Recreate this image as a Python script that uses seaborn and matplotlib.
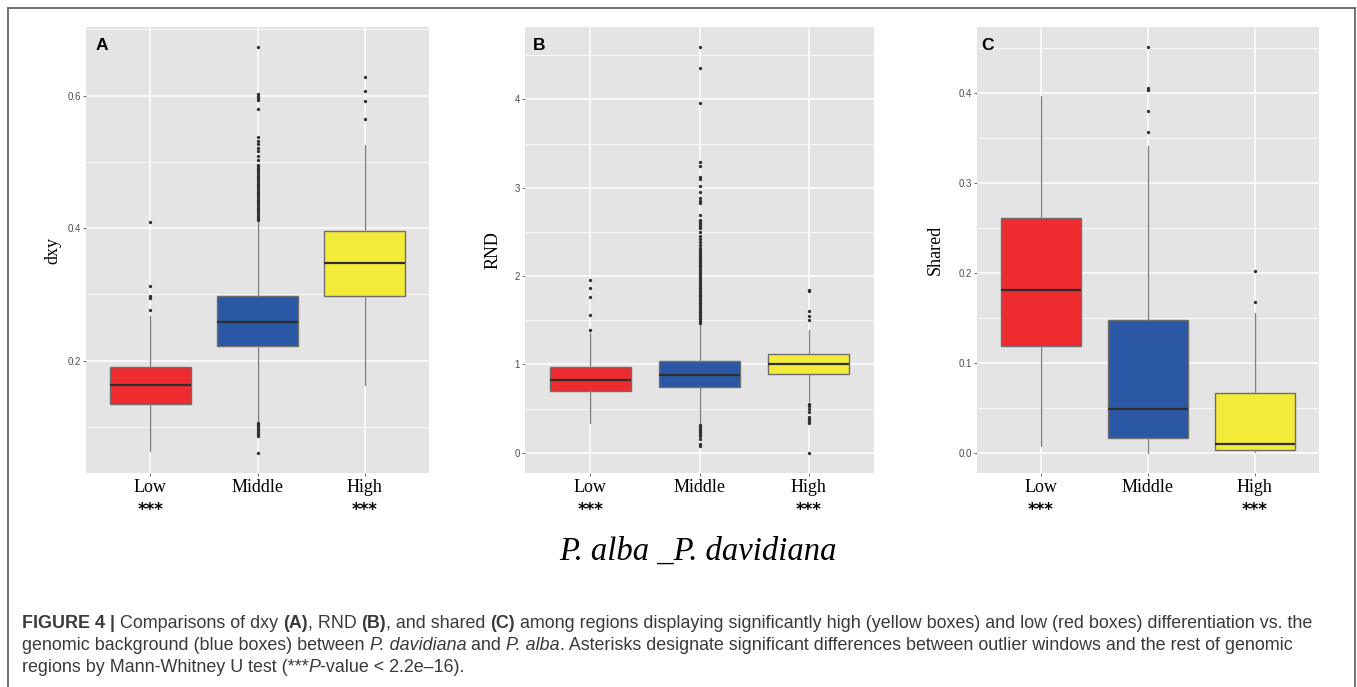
import matplotlib
matplotlib.use("Agg")
import matplotlib.pyplot as plt
import seaborn as sns
from matplotlib import font_manager
from matplotlib.lines import Line2D
from matplotlib.ticker import FixedLocator

# ---- data ----
groups = ['Low', 'Middle', 'High']
box_colors = ['#EE2B2E', '#2B58A5', '#F3EB3A']

# per group: whislo, q1, median, q3, whishi
dxy_stats = [
    [0.063, 0.135, 0.163, 0.190, 0.268],
    [0.109, 0.222, 0.258, 0.298, 0.411],
    [0.163, 0.297, 0.348, 0.395, 0.526],
]
dxy_fliers = [
    [0.276, 0.295, 0.298, 0.313, 0.409],
    [0.061, 0.086, 0.089, 0.092, 0.095, 0.098, 0.101, 0.104, 0.106,
     0.413, 0.416, 0.419, 0.422, 0.425, 0.428, 0.431, 0.434, 0.437, 0.440,
     0.443, 0.446, 0.449, 0.452, 0.455, 0.458, 0.461, 0.464, 0.467, 0.470,
     0.473, 0.476, 0.479, 0.482, 0.485, 0.488, 0.491, 0.494, 0.496,
     0.503, 0.509, 0.517, 0.521, 0.527, 0.532, 0.538,
     0.580, 0.594, 0.597, 0.600, 0.602, 0.673],
    [0.565, 0.592, 0.607, 0.628],
]

rnd_stats = [
    [0.34, 0.704, 0.828, 0.972, 1.36],
    [0.34, 0.746, 0.885, 1.035, 1.465],
    [0.58, 0.896, 1.006, 1.122, 1.393],
]
rnd_fliers = [
    [1.393, 1.563, 1.758, 1.86, 1.958],
    [0.075, 0.094, 0.15, 0.19, 0.21, 0.23, 0.25, 0.27, 0.29, 0.31,
     1.47, 1.49, 1.51, 1.53, 1.55, 1.57, 1.59, 1.61, 1.63, 1.65, 1.67,
     1.69, 1.71, 1.73, 1.75, 1.77, 1.79, 1.81, 1.83, 1.85, 1.87, 1.89,
     1.91, 1.93, 1.95, 1.97, 1.99, 2.01, 2.03, 2.05, 2.07, 2.09, 2.11,
     2.13, 2.15, 2.17, 2.19, 2.21, 2.23, 2.25, 2.27, 2.29,
     2.32, 2.35, 2.385, 2.42, 2.455, 2.50, 2.54, 2.56, 2.58, 2.60, 2.62,
     2.64, 2.69, 2.825, 2.854, 2.888, 2.956, 3.024, 3.10, 3.125, 3.25,
     3.295, 3.955, 4.36, 4.59],
    [0.0, 0.331, 0.36, 0.385, 0.407, 0.463, 0.49, 0.53, 0.557,
     1.499, 1.544, 1.608, 1.83, 1.84],
]

shared_stats = [
    [0.007, 0.1185, 0.181, 0.261, 0.397],
    [0.0, 0.0166, 0.049, 0.148, 0.341],
    [0.001, 0.003, 0.010, 0.066, 0.1556],
]
shared_fliers = [
    [],
    [0.357, 0.380, 0.404, 0.406, 0.451],
    [0.1674, 0.2018],
]

dxy_ticks = [0.2, 0.4, 0.6]
dxy_ticklabels = ['0.2', '0.4', '0.6']
dxy_minor = [0.1, 0.3, 0.5, 0.7]
rnd_ticks = [0, 1, 2, 3, 4]
rnd_ticklabels = ['0', '1', '2', '3', '4']
rnd_minor = [0.5, 1.5, 2.5, 3.5, 4.5]
shared_ticks = [0.0, 0.1, 0.2, 0.3, 0.4]
shared_ticklabels = ['0.0', '0.1', '0.2', '0.3', '0.4']
shared_minor = [0.05, 0.15, 0.25, 0.35, 0.45]

signif = ['***', '', '***']

# ---- style ----
W, H = 1357, 687
sns.set_theme(style='darkgrid', rc={
    'axes.facecolor': '#E4E4E4',
    'figure.facecolor': 'white',
    'grid.color': 'white',
})
installed = {f.name for f in font_manager.fontManager.ttflist}
tick_font = 'Liberation Sans Narrow' if 'Liberation Sans Narrow' in installed else 'Liberation Sans'
plt.rcParams['font.family'] = ['Liberation Sans', 'DejaVu Sans']

fig = plt.figure(figsize=(W / 100, H / 100), dpi=100)


def rect(left, top, width, height):
    return [left / W, 1 - (top + height) / H, width / W, height / H]


panels = [
    dict(letter='A', ylabel='dxy', stats=dxy_stats, fliers=dxy_fliers,
         ticks=dxy_ticks, labels=dxy_ticklabels, minor=dxy_minor,
         box=rect(86, 27, 343, 446), lab_x=-0.072, let_x=0.028),
    dict(letter='B', ylabel='RND', stats=rnd_stats, fliers=rnd_fliers,
         ticks=rnd_ticks, labels=rnd_ticklabels, minor=rnd_minor,
         box=rect(525, 27, 349, 446), lab_x=-0.066, let_x=0.022),
    dict(letter='C', ylabel='Shared', stats=shared_stats, fliers=shared_fliers,
         ticks=shared_ticks, labels=shared_ticklabels, minor=shared_minor,
         box=rect(977, 27, 342, 446), lab_x=-0.097, let_x=0.012),
]

for p in panels:
    ax = fig.add_axes(p['box'])
    bstats = [dict(whislo=s[0], q1=s[1], med=s[2], q3=s[3], whishi=s[4], fliers=f)
              for s, f in zip(p['stats'], p['fliers'])]
    bp = ax.bxp(bstats, positions=range(len(groups)), widths=0.75,
                patch_artist=True, showcaps=False,
                boxprops=dict(edgecolor='#6E6E6E', linewidth=1.0),
                medianprops=dict(color='#2E2E2E', linewidth=1.6),
                whiskerprops=dict(color='#808080', linewidth=1.0),
                flierprops=dict(marker='o', markersize=2.4, markerfacecolor='#303030',
                                markeredgecolor='none'))
    for patch, c in zip(bp['boxes'], box_colors):
        patch.set_facecolor(c)

    ax.set_xlim(-0.6, 2.6)
    ax.margins(y=0.05)
    ax.set_xticks(range(len(groups)), groups, fontfamily='Liberation Serif', fontsize=13)
    ax.set_yticks(p['ticks'], p['labels'], fontfamily=tick_font, fontsize=7)
    ax.yaxis.set_minor_locator(FixedLocator(p['minor']))
    ax.grid(which='major', color='white', linewidth=1.1)
    ax.grid(which='minor', axis='y', color='white', linewidth=0.55)
    ax.tick_params(axis='both', which='major', bottom=True, left=True, length=2.5,
                   width=0.6, color='#555555')
    ax.tick_params(axis='y', which='major', labelcolor='#4D4D4D', pad=1)
    ax.tick_params(axis='x', which='major', labelcolor='black', pad=2)
    ax.tick_params(which='minor', left=False, bottom=False)
    for sp in ax.spines.values():
        sp.set_visible(False)

    ax.set_ylabel(p['ylabel'], fontfamily='Liberation Serif', fontsize=13, color='black')
    ax.yaxis.set_label_coords(p['lab_x'], 0.5)

    ax.text(p['let_x'], 0.975, p['letter'], transform=ax.transAxes, ha='left', va='top',
            fontsize=12.5, fontweight='bold', color='black')

    for i, s in enumerate(signif):
        if s:
            ax.text(i, -0.094, s, transform=ax.get_xaxis_transform(), ha='center',
                    va='baseline', fontsize=12, fontweight='bold',
                    fontfamily='DejaVu Sans', color='black')

# title
fig.text(698 / W, 1 - 560 / H, 'P. alba _P. davidiana', ha='center', va='baseline',
         fontfamily='Liberation Serif', fontstyle='italic', fontsize=23.5, color='black')

# caption
renderer = fig.canvas.get_renderer()
cap_size = 12.85
cap_color = '#3A3A3A'


def piece_width(text, weight, style):
    t1 = fig.text(0, 0, '|' + text + '|', fontsize=cap_size, fontweight=weight, fontstyle=style)
    t2 = fig.text(0, 0, '||', fontsize=cap_size, fontweight=weight, fontstyle=style)
    w = t1.get_window_extent(renderer).width - t2.get_window_extent(renderer).width
    t1.remove()
    t2.remove()
    return w


def rich_line(x, y, pieces):
    for text, weight, style in pieces:
        fig.text(x / W, 1 - y / H, text, fontsize=cap_size, fontweight=weight,
                 fontstyle=style, color=cap_color, ha='left', va='baseline')
        x += piece_width(text, weight, style)


N, B, I = ('normal', 'normal'), ('bold', 'normal'), ('normal', 'italic')
caption = [
    (628, [('FIGURE 4 |', *B), (' Comparisons of dxy ', *N), ('(A)', *B), (', RND ', *N),
           ('(B)', *B), (', and shared ', *N), ('(C)', *B),
           (' among regions displaying significantly high (yellow boxes) and low (red boxes) '
            'differentiation vs. the', *N)]),
    (649.5, [('genomic background (blue boxes) between ', *N), ('P. davidiana', *I),
             (' and ', *N), ('P. alba', *I),
             ('. Asterisks designate significant differences between outlier windows and '
              'the rest of genomic', *N)]),
    (671.5, [('regions by Mann-Whitney U test (***', *N), ('P', *I),
             ('-value < 2.2e\u201316).', *N)]),
]
for y, pieces in caption:
    rich_line(22, y, pieces)

# frame around the figure
for xs, ys in [([7.5, 7.5], [8, H]), ([7.5, 1355], [8, 8]), ([1355, 1355], [8, H])]:
    fig.add_artist(Line2D([x / W for x in xs], [1 - y / H for y in ys],
                          transform=fig.transFigure, color='#5A5A5A', linewidth=1.2))

fig.savefig('out.png', dpi=100)
